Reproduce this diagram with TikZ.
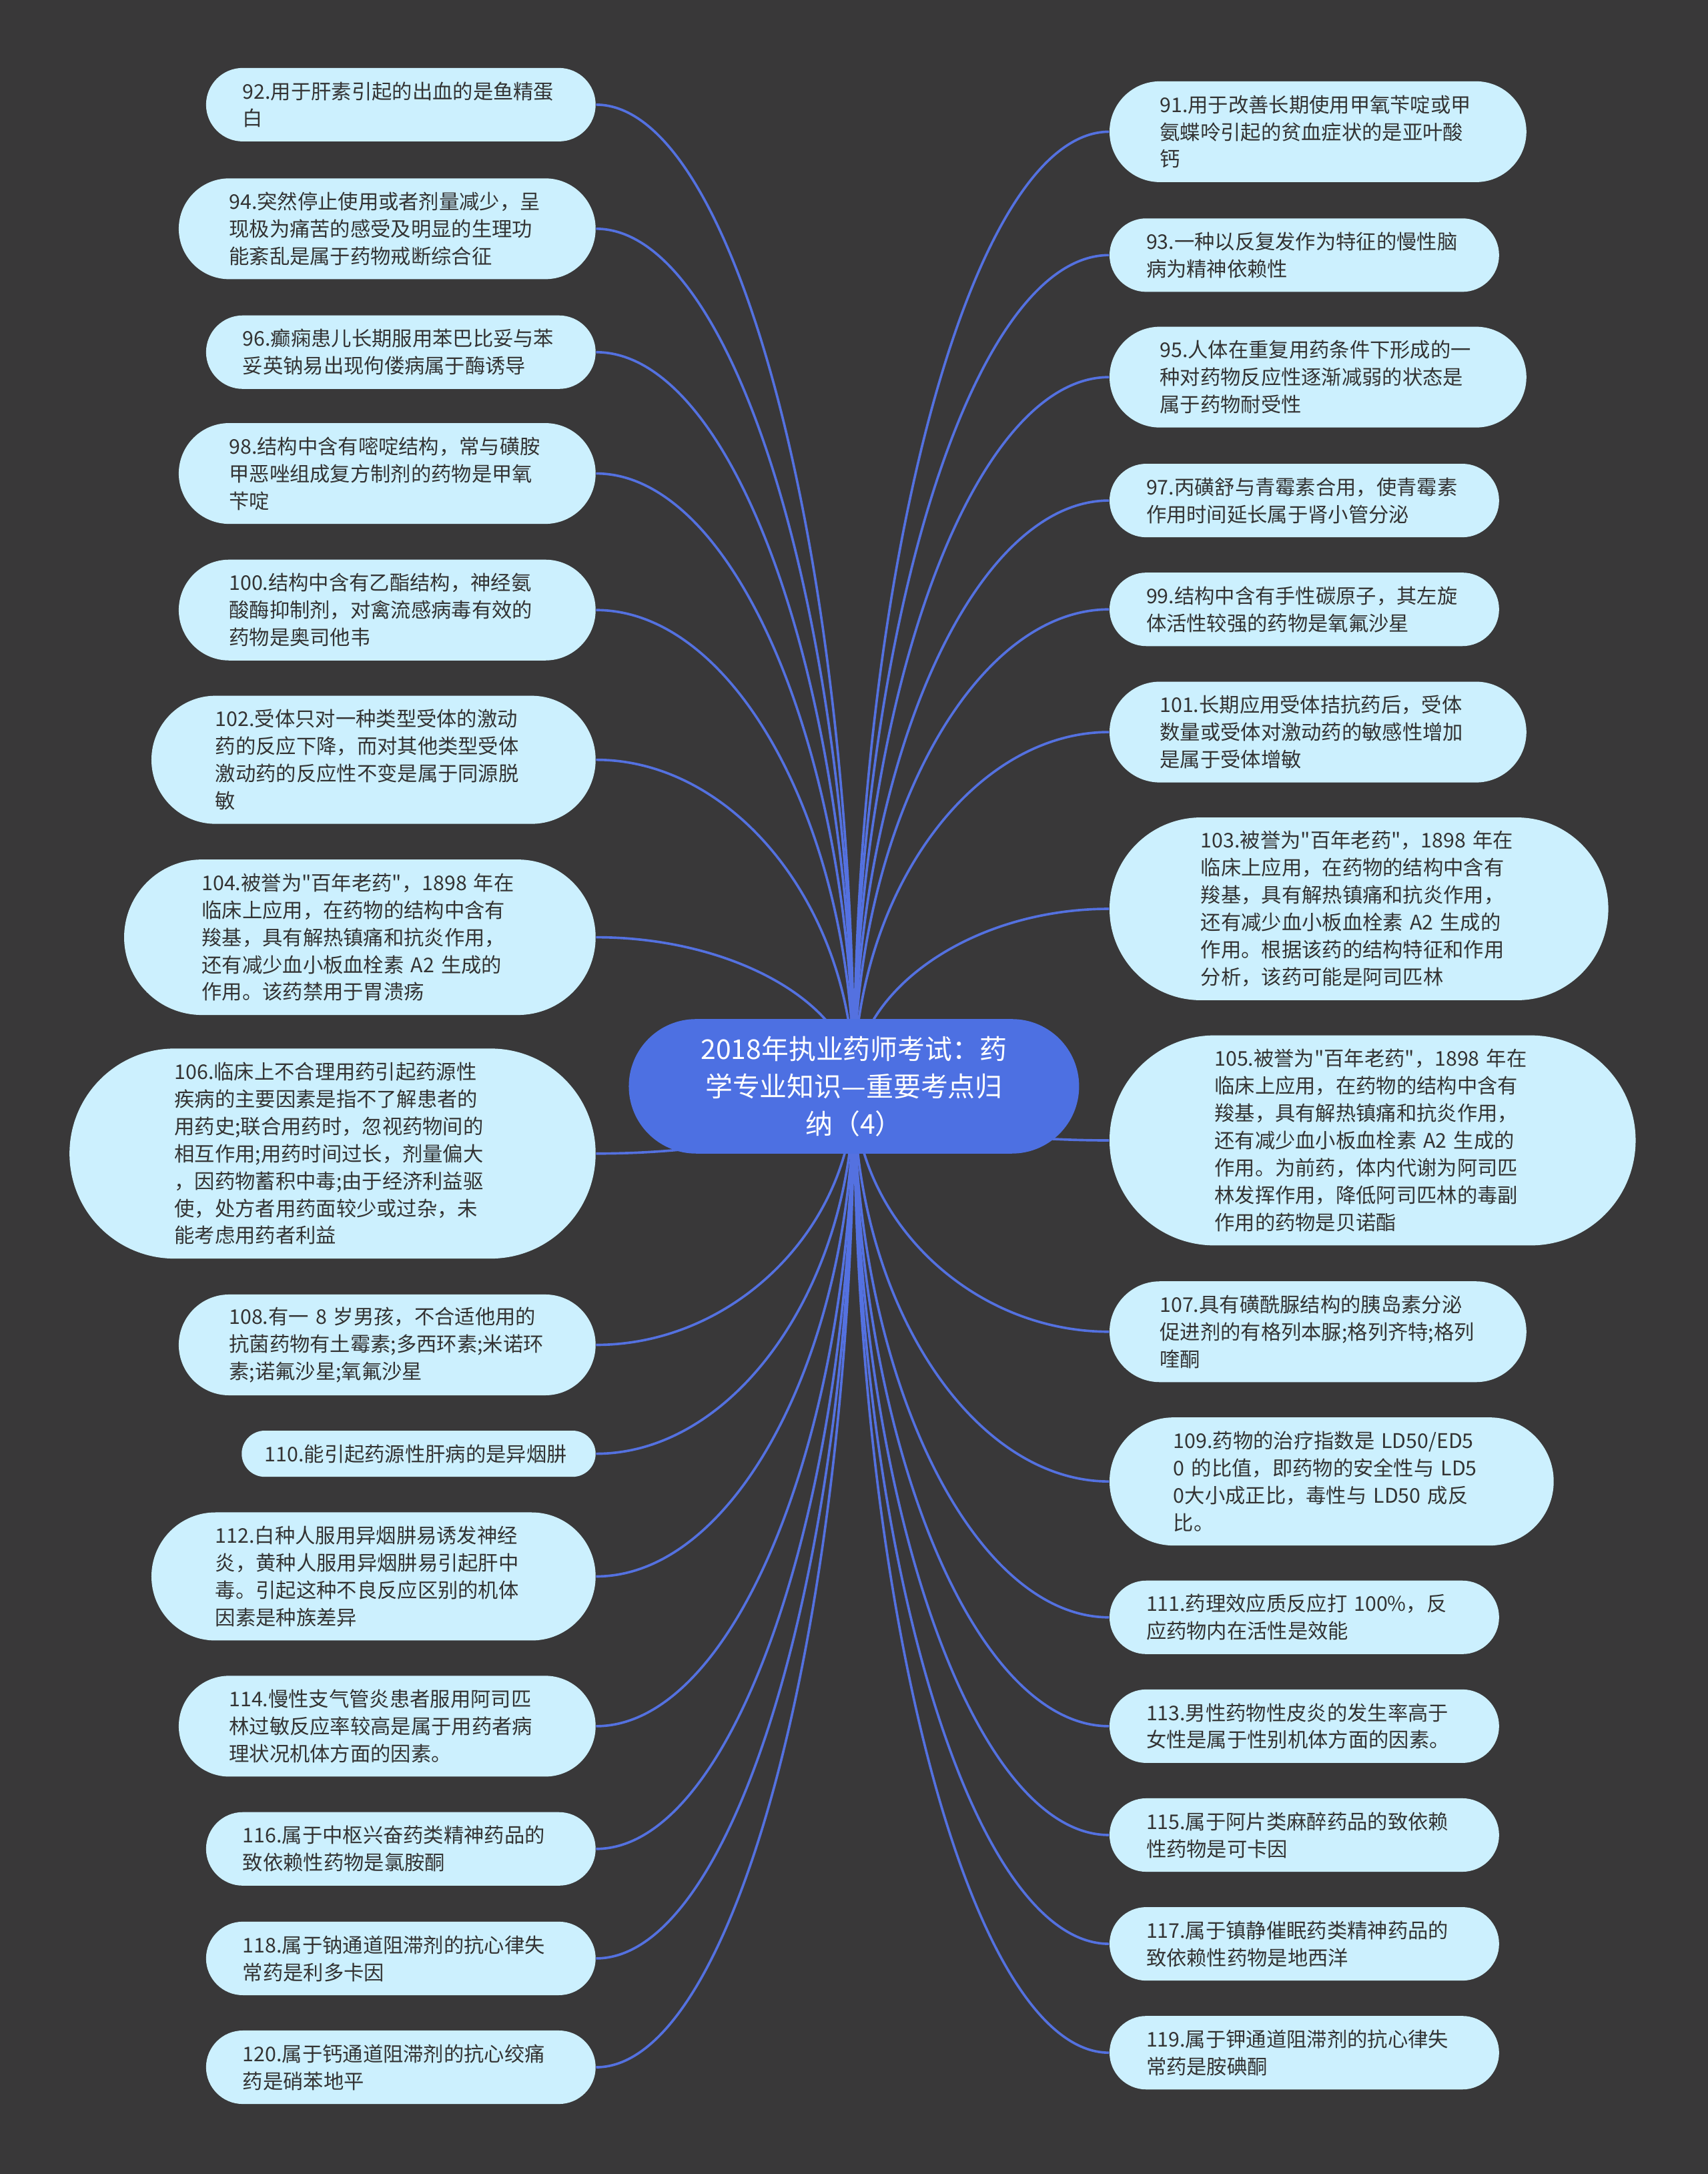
\documentclass[tikz,border=0pt]{standalone}
\usepackage{fontspec}
\setmainfont{Noto Sans CJK SC}[Ligatures=TeXOff]
\usepackage{tikz}
\usetikzlibrary{calc,backgrounds}
\definecolor{boardgray}{RGB}{57,56,57}
\definecolor{leafcyan}{RGB}{204,240,254}
\definecolor{hubblue}{RGB}{77,112,226}
\definecolor{twigblue}{RGB}{84,113,224}
\definecolor{inkgray}{RGB}{51,51,51}

\tikzset{
  % #1 = number of text lines
  leaf/.style={rectangle, fill=leafcyan, text=inkgray, text width=45.6mm, align=left,
    minimum height={6.66mm+3.94mm*(#1-1)}, rounded corners={3.33mm+1.97mm*(#1-1)},
    inner xsep={3.33mm+1.97mm*(#1-1)}, inner ysep=0pt, font=\fontsize{8.3}{11.2}\selectfont},
  hub/.style={rectangle, fill=hubblue, text=white, align=center, minimum height=19.4mm,
    rounded corners=9.7mm, inner xsep=10.4mm, inner ysep=0pt, font=\fontsize{11.2}{15.4}\selectfont},
  twig/.style={draw=twigblue, line width=1pt,
    to path={.. controls ($(\tikztostart)!0.54!(\tikztostart|-\tikztotarget)$)
      and ($(\tikztotarget)!0.54!(\tikztotarget-|\tikztostart)$) .. (\tikztotarget)}}
}

\begin{document}
\begin{tikzpicture}[x=0.2mm, y=-0.2mm]
% centre
\node[hub] (root) at (616,783.5) {2018年执业药师考试：药\\学专业知识—重要考点归\\纳（4）};

% left column
\node[leaf=2, anchor=east] (q92) at (430,75.5) {92.用于肝素引起的出血的是鱼精蛋\\白};
\node[leaf=3, anchor=east] (q94) at (430,165) {94.突然停止使用或者剂量减少，呈\\现极为痛苦的感受及明显的生理功\\能紊乱是属于药物戒断综合征};
\node[leaf=2, anchor=east] (q96) at (430,254) {96.癫痫患儿长期服用苯巴比妥与苯\\妥英钠易出现佝偻病属于酶诱导};
\node[leaf=3, anchor=east] (q98) at (430,341.5) {98.结构中含有嘧啶结构，常与磺胺\\甲恶唑组成复方制剂的药物是甲氧\\苄啶};
\node[leaf=3, anchor=east] (q100) at (430,440) {100.结构中含有乙酯结构，神经氨\\酸酶抑制剂，对禽流感病毒有效的\\药物是奥司他韦};
\node[leaf=4, anchor=east] (q102) at (430,548) {102.受体只对一种类型受体的激动\\药的反应下降，而对其他类型受体\\激动药的反应性不变是属于同源脱\\敏};
\node[leaf=5, anchor=east] (q104) at (430,676) {104.被誉为"百年老药"，1898~年在\\临床上应用，在药物的结构中含有\\羧基，具有解热镇痛和抗炎作用，\\还有减少血小板血栓素~A2~生成的\\作用。该药禁用于胃溃疡};
\node[leaf=7, anchor=east] (q106) at (430,832) {106.临床上不合理用药引起药源性\\疾病的主要因素是指不了解患者的\\用药史;联合用药时，忽视药物间的\\相互作用;用药时间过长，剂量偏大\\，因药物蓄积中毒;由于经济利益驱\\使，处方者用药面较少或过杂，未\\能考虑用药者利益};
\node[leaf=3, anchor=east] (q108) at (430,970) {108.有一~8~岁男孩，不合适他用的\\抗菌药物有土霉素;多西环素;米诺环\\素;诺氟沙星;氧氟沙星};
\node[leaf=1, anchor=east, text width=44.4mm] (q110) at (430,1048.5) {110.能引起药源性肝病的是异烟肼};
\node[leaf=4, anchor=east] (q112) at (430,1137) {112.白种人服用异烟肼易诱发神经\\炎，黄种人服用异烟肼易引起肝中\\毒。引起这种不良反应区别的机体\\因素是种族差异};
\node[leaf=3, anchor=east] (q114) at (430,1245) {114.慢性支气管炎患者服用阿司匹\\林过敏反应率较高是属于用药者病\\理状况机体方面的因素。};
\node[leaf=2, anchor=east] (q116) at (430,1333.5) {116.属于中枢兴奋药类精神药品的\\致依赖性药物是氯胺酮};
\node[leaf=2, anchor=east] (q118) at (430,1412.5) {118.属于钠通道阻滞剂的抗心律失\\常药是利多卡因};
\node[leaf=2, anchor=east] (q120) at (430,1491) {120.属于钙通道阻滞剂的抗心绞痛\\药是硝苯地平};

% right column
\node[leaf=3, anchor=west] (q91) at (800,95) {91.用于改善长期使用甲氧苄啶或甲\\氨蝶呤引起的贫血症状的是亚叶酸\\钙};
\node[leaf=2, anchor=west] (q93) at (800,184) {93.一种以反复发作为特征的慢性脑\\病为精神依赖性};
\node[leaf=3, anchor=west] (q95) at (800,272) {95.人体在重复用药条件下形成的一\\种对药物反应性逐渐减弱的状态是\\属于药物耐受性};
\node[leaf=2, anchor=west] (q97) at (800,361) {97.丙磺舒与青霉素合用，使青霉素\\作用时间延长属于肾小管分泌};
\node[leaf=2, anchor=west] (q99) at (800,439.5) {99.结构中含有手性碳原子，其左旋\\体活性较强的药物是氧氟沙星};
\node[leaf=3, anchor=west] (q101) at (800,528) {101.长期应用受体拮抗药后，受体\\数量或受体对激动药的敏感性增加\\是属于受体增敏};
\node[leaf=6, anchor=west] (q103) at (800,655.5) {103.被誉为"百年老药"，1898~年在\\临床上应用，在药物的结构中含有\\羧基，具有解热镇痛和抗炎作用，\\还有减少血小板血栓素~A2~生成的\\作用。根据该药的结构特征和作用\\分析，该药可能是阿司匹林};
\node[leaf=7, anchor=west] (q105) at (800,822.5) {105.被誉为"百年老药"，1898~年在\\临床上应用，在药物的结构中含有\\羧基，具有解热镇痛和抗炎作用，\\还有减少血小板血栓素~A2~生成的\\作用。为前药，体内代谢为阿司匹\\林发挥作用，降低阿司匹林的毒副\\作用的药物是贝诺酯};
\node[leaf=3, anchor=west] (q107) at (800,960.5) {107.具有磺酰脲结构的胰岛素分泌\\促进剂的有格列本脲;格列齐特;格列\\喹酮};
\node[leaf=4, anchor=west] (q109) at (800,1068.5) {109.药物的治疗指数是~LD50/ED5\\0~的比值，即药物的安全性与~LD5\\0大小成正比，毒性与~LD50~成反\\比。};
\node[leaf=2, anchor=west] (q111) at (800,1166.5) {111.药理效应质反应打~100\%，反\\应药物内在活性是效能};
\node[leaf=2, anchor=west] (q113) at (800,1245) {113.男性药物性皮炎的发生率高于\\女性是属于性别机体方面的因素。};
\node[leaf=2, anchor=west] (q115) at (800,1323.5) {115.属于阿片类麻醉药品的致依赖\\性药物是可卡因};
\node[leaf=2, anchor=west] (q117) at (800,1402) {117.属于镇静催眠药类精神药品的\\致依赖性药物是地西洋};
\node[leaf=2, anchor=west] (q119) at (800,1480.5) {119.属于钾通道阻滞剂的抗心律失\\常药是胺碘酮};

% board and branches behind the nodes
\begin{scope}[on background layer]
\fill[boardgray] (0,0) rectangle (1232,1568);
\foreach \tip in {q92,q94,q96,q98,q100,q102,q104,q106,q108,q110,q112,q114,q116,q118,q120}
  \draw[twig] (root.center) to (\tip.east);
\foreach \tip in {q91,q93,q95,q97,q99,q101,q103,q105,q107,q109,q111,q113,q115,q117,q119}
  \draw[twig] (root.center) to (\tip.west);
\end{scope}
\end{tikzpicture}
\end{document}
